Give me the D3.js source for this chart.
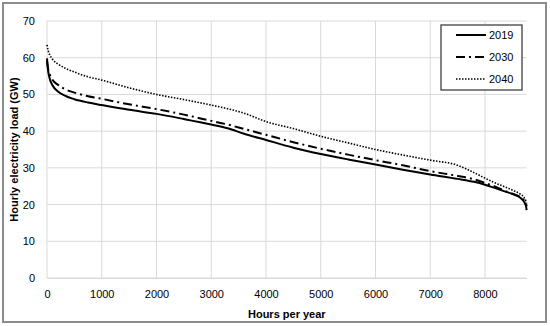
<!DOCTYPE html>
<html><head><meta charset="utf-8">
<script src="https://cdn.jsdelivr.net/npm/d3@7"></script>
<style>body{margin:0;background:#fff}svg{display:block}</style>
</head><body>
<script>
const hours = [0,20,50,100,200,350,500,750,1000,1500,2000,2500,3000,3300,3600,4000,4500,5000,5500,6000,6500,7000,7500,7800,8000,8200,8400,8550,8650,8720,8750,8760];
const load2019 = [59.8,56.5,54.3,52.5,50.8,49.5,48.7,47.8,47.1,45.8,44.7,43.3,41.8,40.8,39.3,37.6,35.5,33.8,32.3,30.9,29.5,28.2,27.0,26.2,25.4,24.4,23.4,22.6,21.8,20.6,19.5,18.5];
const load2030 = [59.0,57.0,55.5,54.0,52.6,51.3,50.5,49.5,48.8,47.3,46.0,44.5,42.8,41.8,40.6,39.0,37.0,35.2,33.6,32.1,30.7,29.1,27.8,26.9,25.9,24.8,23.5,22.7,22.0,21.0,20.2,19.5];
const load2040 = [63.5,62.0,60.8,59.6,58.3,57.0,56.1,54.8,53.9,51.8,50.0,48.6,47.1,46.1,44.9,42.6,40.7,38.6,36.8,35.0,33.5,32.1,30.7,28.7,27.2,25.8,24.6,23.6,22.8,21.8,20.8,20.3];
const seriesNames = ["2019","2030","2040"];
const xTicks = [0,1000,2000,3000,4000,5000,6000,7000,8000];
const yTicks = [0,10,20,30,40,50,60,70];

const W=550,H=326;
const m={l:47,r:23.4,t:21,b:48};
const svg=d3.select("body").append("svg").attr("width",W).attr("height",H);
const font="'Liberation Sans', Arial, sans-serif";
svg.append("rect").attr("x",3).attr("y",3).attr("width",543).attr("height",319)
  .attr("fill","#fff").attr("stroke","#8c8c8c").attr("stroke-width",2);

const x=d3.scaleLinear().domain([0,8760]).range([m.l,W-m.r]);
const y=d3.scaleLinear().domain([0,70]).range([H-m.b,m.t]);

const g=svg.append("g");
g.selectAll(".vg").data(xTicks).join("line").attr("x1",d=>x(d)).attr("x2",d=>x(d))
  .attr("y1",y(0)).attr("y2",y(70)).attr("stroke","#d9d9d9").attr("stroke-width",1);
g.selectAll(".hg").data(yTicks).join("line").attr("x1",x(0)).attr("x2",x(8760))
  .attr("y1",d=>y(d)).attr("y2",d=>y(d)).attr("stroke","#d9d9d9").attr("stroke-width",1);

const xa=svg.append("g").attr("transform",`translate(0,${y(0)})`)
  .call(d3.axisBottom(x).tickValues(xTicks).tickSize(0).tickPadding(12).tickFormat(d3.format("d")));
xa.select(".domain").attr("stroke","#d9d9d9");
xa.selectAll("text").attr("font-family",font).attr("font-size",11).attr("fill","#000");
const ya=svg.append("g").attr("transform",`translate(${x(0)},0)`)
  .call(d3.axisLeft(y).tickValues(yTicks).tickSize(0).tickPadding(12));
ya.select(".domain").remove();
ya.selectAll("text").attr("font-family",font).attr("font-size",11).attr("fill","#000");

const styles=[{w:2,dash:null},{w:2,dash:"9,4,2,4"},{w:1.6,dash:"1.5,1.5"}];
const data=[load2019,load2030,load2040];
const line=d3.line().x((d,i)=>x(hours[i])).y(d=>y(d)).curve(d3.curveMonotoneX);
data.forEach((s,k)=>{
  svg.append("path").datum(s).attr("d",line).attr("fill","none").attr("stroke","#000")
    .attr("stroke-width",styles[k].w).attr("stroke-dasharray",styles[k].dash);
});

svg.append("text").attr("x",(x(0)+x(8760))/2).attr("y",318).attr("text-anchor","middle")
  .attr("font-family",font).attr("font-weight","bold").attr("font-size",11).text("Hours per year");
svg.append("text").attr("transform",`translate(18,${(y(0)+y(70))/2}) rotate(-90)`).attr("text-anchor","middle")
  .attr("font-family",font).attr("font-weight","bold").attr("font-size",11).text("Hourly electricity load (GW)");

const lg=svg.append("g");
lg.append("rect").attr("x",441).attr("y",25).attr("width",81).attr("height",65)
  .attr("fill","#fff").attr("stroke","#404040").attr("stroke-width",1.3);
seriesNames.forEach((n,k)=>{
  const yy=35+k*22;
  lg.append("line").attr("x1",456).attr("x2",486).attr("y1",yy).attr("y2",yy)
    .attr("stroke","#000").attr("stroke-width",styles[k].w).attr("stroke-dasharray",styles[k].dash);
  lg.append("text").attr("x",489).attr("y",yy).attr("dy","0.35em")
    .attr("font-family",font).attr("font-size",11).text(n);
});
</script>
</body></html>
